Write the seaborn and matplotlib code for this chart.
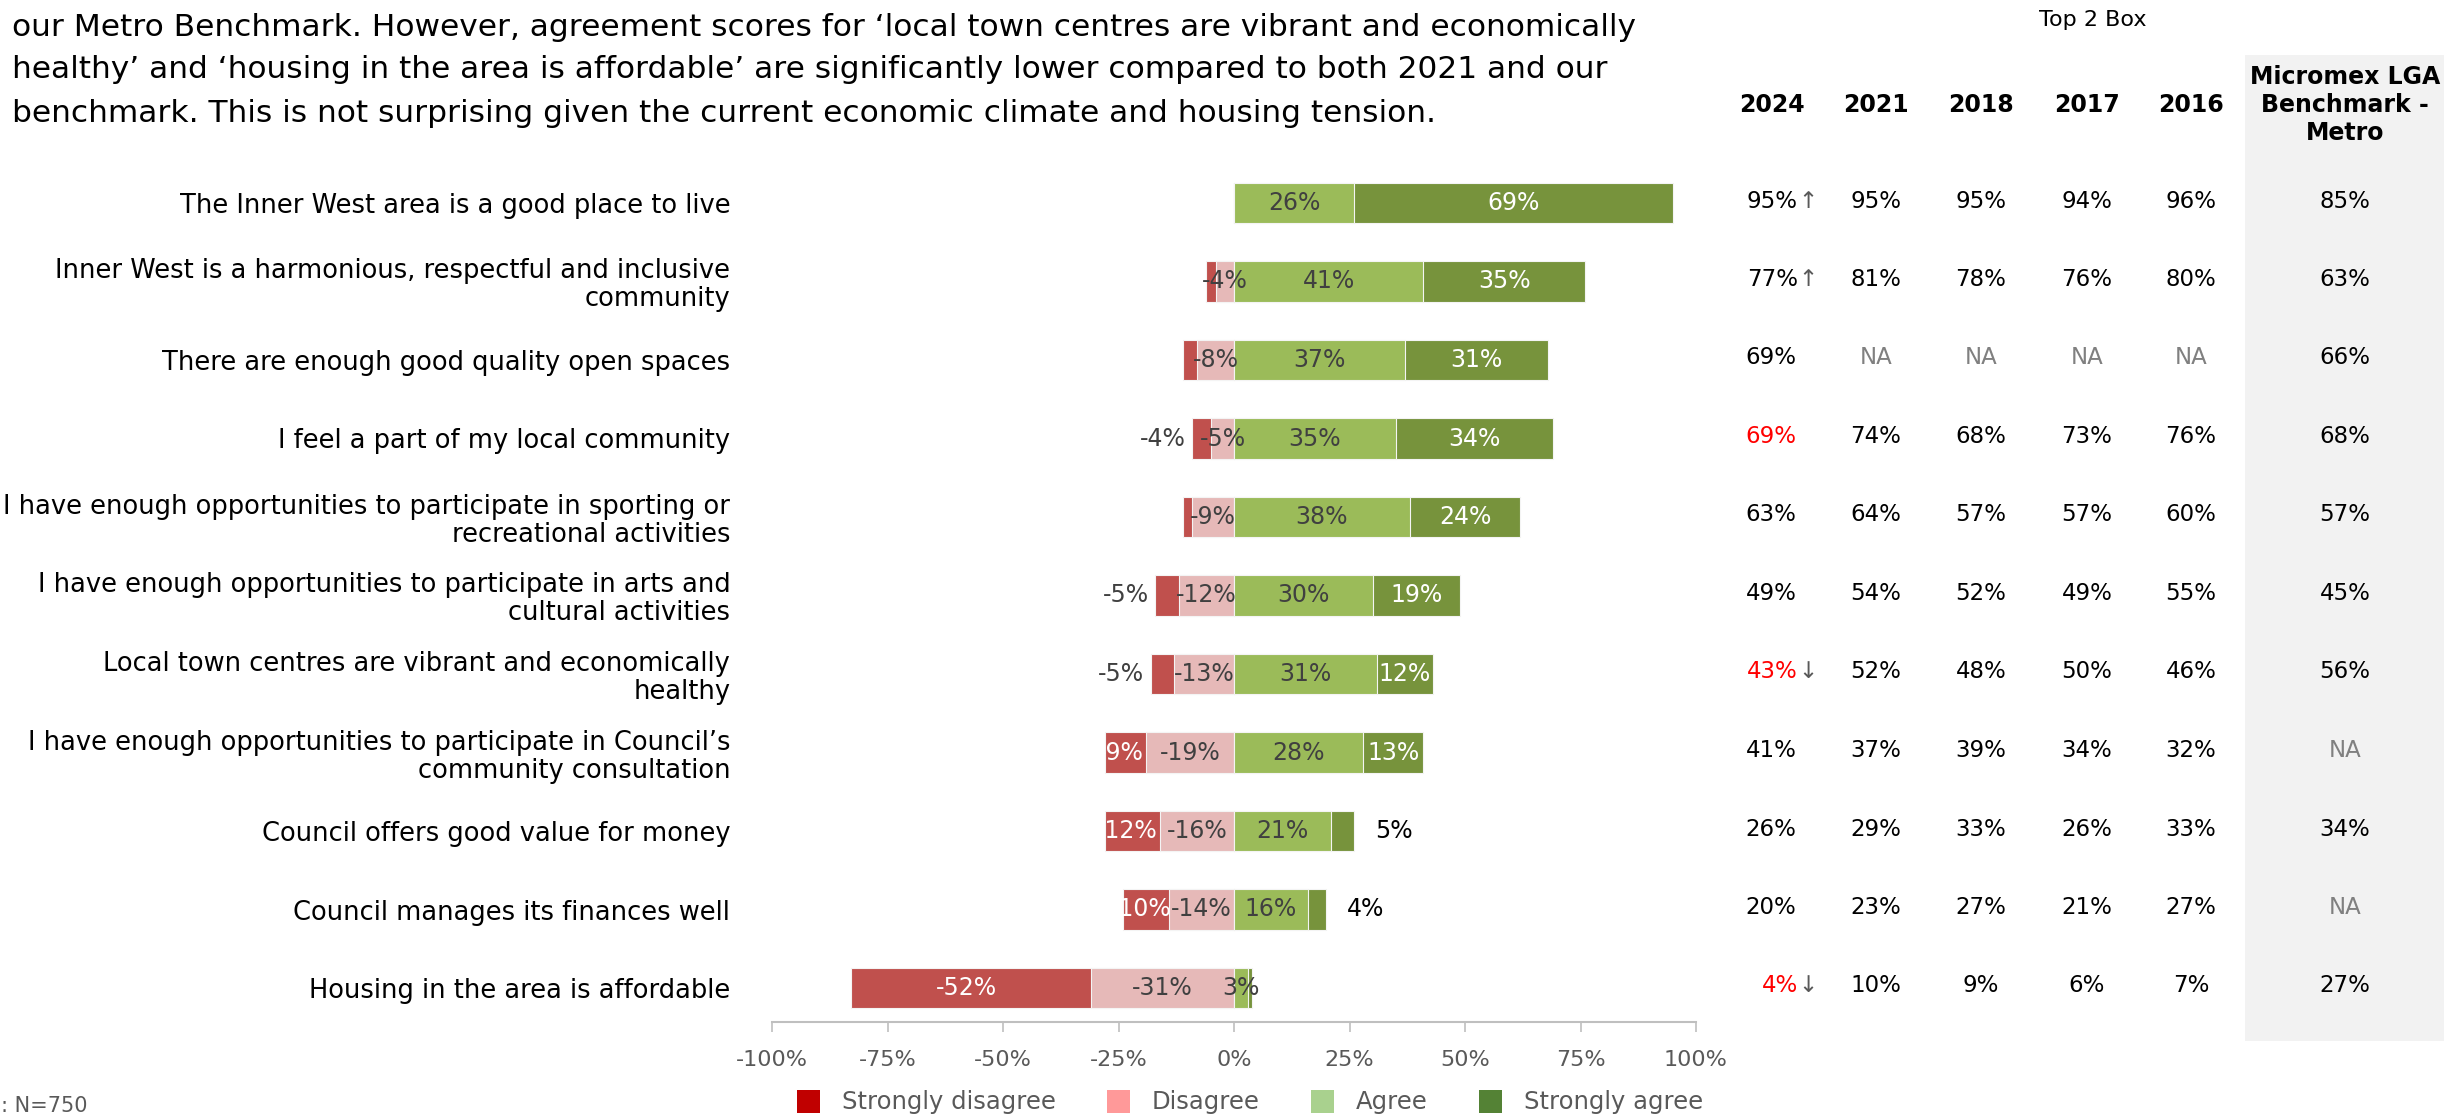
import matplotlib
matplotlib.use("Agg")
import matplotlib.pyplot as plt
import seaborn as sns
import pandas as pd
from matplotlib.patches import Patch, Rectangle

# ---------------- data ----------------
statements = [
    "The Inner West area is a good place to live",
    "Inner West is a harmonious, respectful and inclusive\ncommunity",
    "There are enough good quality open spaces",
    "I feel a part of my local community",
    "I have enough opportunities to participate in sporting or\nrecreational activities",
    "I have enough opportunities to participate in arts and\ncultural activities",
    "Local town centres are vibrant and economically\nhealthy",
    "I have enough opportunities to participate in Council\u2019s\ncommunity consultation",
    "Council offers good value for money",
    "Council manages its finances well",
    "Housing in the area is affordable",
]
strongly_disagree = [0, 2, 3, 4, 2, 5, 5, 9, 12, 10, 52]
disagree = [0, 4, 8, 5, 9, 12, 13, 19, 16, 14, 31]
agree = [26, 41, 37, 35, 38, 30, 31, 28, 21, 16, 3]
strongly_agree = [69, 35, 31, 34, 24, 19, 12, 13, 5, 4, 1]

# label placement for small segments (style)
sd_label_mode = ["none", "none", "none", "out", "none", "out", "out", "in", "in", "in", "in"]
d_label_show = [False, True, True, True, True, True, True, True, True, True, True]
sa_label_mode = ["in", "in", "in", "in", "in", "in", "in", "in", "out", "out", "none"]

year_cols = ["2024", "2021", "2018", "2017", "2016"]
top2_2024 = ["95%", "77%", "69%", "69%", "63%", "49%", "43%", "41%", "26%", "20%", "4%"]
top2_2024_arrow = ["\u2191", "\u2191", "", "", "", "", "\u2193", "", "", "", "\u2193"]
top2_2024_red = [False, False, False, True, False, False, True, False, False, False, True]
top2_2021 = ["95%", "81%", "NA", "74%", "64%", "54%", "52%", "37%", "29%", "23%", "10%"]
top2_2018 = ["95%", "78%", "NA", "68%", "57%", "52%", "48%", "39%", "33%", "27%", "9%"]
top2_2017 = ["94%", "76%", "NA", "73%", "57%", "49%", "50%", "34%", "26%", "21%", "6%"]
top2_2016 = ["96%", "80%", "NA", "76%", "60%", "55%", "46%", "32%", "33%", "27%", "7%"]
benchmark = ["85%", "63%", "66%", "68%", "57%", "45%", "56%", "NA", "34%", "NA", "27%"]

legend_labels = ["Strongly disagree", "Disagree", "Agree", "Strongly agree"]
xticks = [-100, -75, -50, -25, 0, 25, 50, 75, 100]

intro_lines = [
    "our Metro Benchmark. However, agreement scores for \u2018local town centres are vibrant and economically",
    "healthy\u2019 and \u2018housing in the area is affordable\u2019 are significantly lower compared to both 2021 and our",
    "benchmark. This is not surprising given the current economic climate and housing tension.",
]
footnote = ": N=750"

# ---------------- style ----------------
W, H = 2451, 1119
FONT = ["DejaVu Sans"]
sns.set_theme(style="white")
plt.rcParams["font.family"] = FONT

C_SD, C_D, C_A, C_SA = "#C0504D", "#E6B9B8", "#9BBB59", "#77933C"
L_SD, L_D, L_A, L_SA = "#C00000", "#FF9999", "#A9D18E", "#548235"
GREY_TXT = "#595959"
DARK_TXT = "#404040"

def fx(x):
    return x / W

def fy(y):
    return 1 - y / H

fig = plt.figure(figsize=(W / 100, H / 100), dpi=100)
fig.patch.set_facecolor("white")

row0, rstep = 203, 78.5
ax_top_val, ax_bot_val = -0.6, 10.433
top_px = row0 + ax_top_val * rstep
bot_px = row0 + ax_bot_val * rstep
x_left_px, x_right_px = 772, 1696
ax = fig.add_axes([fx(x_left_px), fy(bot_px), (x_right_px - x_left_px) / W, (bot_px - top_px) / H])

df = pd.DataFrame({
    "statement": statements,
    "sd": strongly_disagree,
    "d": disagree,
    "a": agree,
    "sa": strongly_agree,
})
df["neg_total"] = -(df["sd"] + df["d"])
df["neg_d"] = -df["d"]
df["pos_total"] = df["a"] + df["sa"]

common = dict(y="statement", data=df, order=statements, orient="y", errorbar=None,
              width=0.51, linewidth=0.8, edgecolor="#F4F4F4", ax=ax)
sns.barplot(x="neg_total", color=C_SD, saturation=1, **common)
sns.barplot(x="neg_d", color=C_D, saturation=1, **common)
sns.barplot(x="pos_total", color=C_SA, saturation=1, **common)
sns.barplot(x="a", color=C_A, saturation=1, **common)

ax.set_xlim(-100, 100)
ax.set_ylim(ax_bot_val, ax_top_val)
ax.set_xlabel("")
ax.set_ylabel("")
ax.set_xticks(xticks)
ax.set_xticklabels([f"{v}%" for v in xticks])
ax.tick_params(axis="x", direction="out", length=7, width=1.2, color="#BFBFBF",
               labelcolor=GREY_TXT, labelsize=16, pad=13, bottom=True)
ax.tick_params(axis="y", length=0, pad=30, labelsize=18.5, labelcolor="#000000")
for t in ax.get_yticklabels():
    t.set_linespacing(1.1)
for s in ["top", "right", "left"]:
    ax.spines[s].set_visible(False)
ax.spines["bottom"].set_color("#BFBFBF")
ax.spines["bottom"].set_linewidth(1.5)
ax.set_facecolor("none")

# ---------------- bar labels ----------------
LBL = 17
for i in range(len(statements)):
    sd, d, a, sa = strongly_disagree[i], disagree[i], agree[i], strongly_agree[i]
    if sd_label_mode[i] == "in":
        ax.text(-(d + sd / 2) - 1.0, i, f"-{sd}%", ha="center", va="center", color="white", fontsize=LBL)
    elif sd_label_mode[i] == "out":
        ax.text(-(d + sd) - 1.5, i, f"-{sd}%", ha="right", va="center", color=DARK_TXT, fontsize=LBL)
    if d_label_show[i]:
        ax.text(-d / 2, i, f"-{d}%", ha="center", va="center", color=DARK_TXT, fontsize=LBL)
    ax.text(a / 2, i, f"{a}%", ha="center", va="center", color=DARK_TXT, fontsize=LBL)
    if sa_label_mode[i] == "in":
        ax.text(a + sa / 2, i, f"{sa}%", ha="center", va="center", color="white", fontsize=LBL)
    elif sa_label_mode[i] == "out":
        ax.text(a + sa + 4.5, i, f"{sa}%", ha="left", va="center", color="#000000", fontsize=LBL)

# ---------------- table ----------------
fig.patches.append(Rectangle((fx(2245), fy(1041)), (2444 - 2245) / W, (1041 - 55) / H,
                             transform=fig.transFigure, facecolor="#F2F2F2", edgecolor="none", zorder=0))

fig.text(fx(2093), fy(20), "Top 2 Box", ha="center", va="center", fontsize=16, color="#000000")
col_x = [1772, 1876, 1981, 2087, 2191]
hdr_font = ["Liberation Sans Narrow", "DejaVu Sans"]
for cx, name in zip(col_x, year_cols):
    fig.text(fx(cx), fy(105), name, ha="center", va="center", fontsize=17, fontweight="bold",
             family=hdr_font, color="#000000")
fig.text(fx(2345), fy(105), "Micromex LGA\nBenchmark -\nMetro", ha="center", va="center",
         fontsize=17, fontweight="bold", family=hdr_font, color="#000000", linespacing=1.2)

TBL = 16.5
def cell(x, y, s, color="#000000"):
    if s == "NA":
        color = "#808080"
    fig.text(fx(x), fy(y), s, ha="center", va="center", fontsize=TBL, color=color)

for i in range(len(statements)):
    y = row0 + i * rstep - 2
    col = "#FF0000" if top2_2024_red[i] else "#000000"
    if top2_2024_arrow[i]:
        fig.text(fx(1798), fy(y), top2_2024[i], ha="right", va="center", fontsize=TBL, color=col)
        fig.text(fx(1798), fy(y), top2_2024_arrow[i], ha="left", va="center", fontsize=TBL, color=GREY_TXT)
    else:
        cell(1771, y, top2_2024[i], col)
    for cx, vals in zip(col_x[1:], [top2_2021, top2_2018, top2_2017, top2_2016]):
        cell(cx, y, vals[i])
    cell(2345, y, benchmark[i])

# ---------------- intro text ----------------
for k, line in enumerate(intro_lines):
    fig.text(fx(12), fy(27 + 43 * k), line, ha="left", va="center", fontsize=22.5, color="#000000")

# ---------------- footnote ----------------
fig.text(fx(1), fy(1106), footnote, ha="left", va="center", fontsize=15, color=GREY_TXT)

# ---------------- legend ----------------
handles = [Patch(facecolor=c, edgecolor="none") for c in [L_SD, L_D, L_A, L_SA]]
fig.legend(handles, legend_labels, loc="center", bbox_to_anchor=(fx(1250), fy(1102)), ncol=4,
           frameon=False, fontsize=17.5, labelcolor=GREY_TXT, handlelength=0.95, handleheight=1.1,
           handletextpad=0.9, columnspacing=2.1)

fig.savefig("out.png", dpi=100, facecolor="white")
